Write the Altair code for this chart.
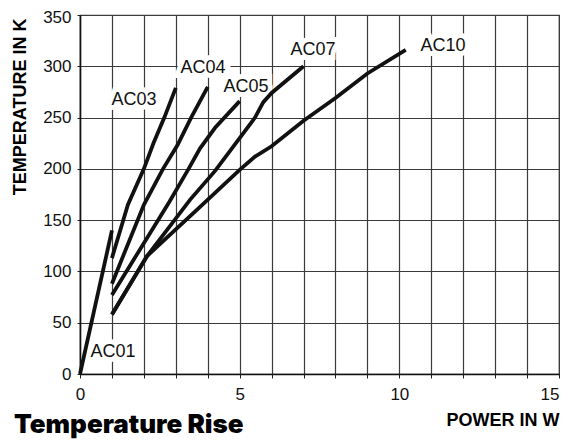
import altair as alt
import pandas as pd

# ---- data ----
ac01_x = [0, 1]
ac01_y = [0, 140]
ac03_x = [1, 1.5, 2.0, 2.3, 2.64, 3.0]
ac03_y = [113, 165, 200, 225, 250, 279]
ac04_x = [1, 2.0, 2.6, 3.05, 3.48, 4.0]
ac04_y = [88, 165, 200, 223, 250, 280]
ac05_x = [1, 2.8, 3.4, 3.76, 4.23, 5.0]
ac05_y = [77, 168, 200, 220, 240, 266]
ac07_x = [1, 2.1, 3.45, 4.23, 5.48, 5.74, 6.0, 7.0]
ac07_y = [58, 115, 170, 198, 250, 265, 274, 300]
ac10_x = [1, 2.1, 3.76, 5.0, 5.48, 6.0, 7.0, 8.0, 9.0, 10.2]
ac10_y = [58, 115, 163, 199, 212, 222, 247, 269, 293, 316]

label_names = ["AC01", "AC03", "AC04", "AC05", "AC07", "AC10"]
label_x = [1.03, 1.69, 3.85, 5.2, 7.3, 11.37]
label_y = [21, 267, 298, 280, 316, 320]

x_ticks = list(range(0, 16))
y_ticks = list(range(0, 351, 50))

series = [("AC01", ac01_x, ac01_y), ("AC03", ac03_x, ac03_y),
          ("AC04", ac04_x, ac04_y), ("AC05", ac05_x, ac05_y),
          ("AC07", ac07_x, ac07_y), ("AC10", ac10_x, ac10_y)]
rows = []
for name, xs, ys in series:
    for i, (xv, yv) in enumerate(zip(xs, ys)):
        rows.append({"series": name, "power": xv, "temp": yv, "ord": i})
df = pd.DataFrame(rows)
lab = pd.DataFrame({"label": label_names, "power": label_x, "temp": label_y})

FONT = "Liberation Sans"

x_enc = alt.X("power:Q", scale=alt.Scale(domain=[0, 15], nice=False),
              axis=alt.Axis(values=x_ticks,
                            labelExpr="datum.value % 5 == 0 ? datum.label : ''",
                            labelAlign=alt.condition("datum.value == 15",
                                                     alt.value("right"),
                                                     alt.value("center")),
                            title="POWER IN W", titleFont=FONT, titleFontSize=18,
                            titleFontWeight="bold", titleColor="black",
                            titleX=479, titleY=51, titleAlign="right",
                            titleBaseline="alphabetic",
                            labelFont=FONT, labelFontSize=17, labelColor="#111",
                            labelPadding=8, tickSize=4, tickColor="#222",
                            domainColor="#111", domainWidth=1.5,
                            grid=True, gridColor="#3a3a3a", gridWidth=1.2,
                            labelFlush=False))
y_enc = alt.Y("temp:Q", scale=alt.Scale(domain=[0, 350], nice=False),
              axis=alt.Axis(values=y_ticks,
                            title="TEMPERATURE IN K", titleFont=FONT, titleFontSize=18,
                            titleFontWeight="bold", titleColor="black",
                            titleX=-60, titleY=3, titleAngle=270,
                            titleAlign="right", titleBaseline="middle",
                            labelFont=FONT, labelFontSize=17, labelColor="#111",
                            labelOffset=alt.condition("datum.value == 350",
                                                      alt.value(2), alt.value(0)),
                            labelPadding=6, tickSize=3, tickColor="#222",
                            domainColor="#111", domainWidth=1.5,
                            grid=True, gridColor="#3a3a3a", gridWidth=1.2))

halo = alt.Chart(lab).mark_text(font=FONT, fontSize=18, color="white",
                                stroke="white", strokeWidth=10,
                                strokeJoin="miter").encode(
    x=x_enc, y=y_enc, text="label:N")

lines = alt.Chart(df).mark_line(color="#111", strokeWidth=3.8).encode(
    x=x_enc, y=y_enc, detail="series:N", order="ord:Q")

text = alt.Chart(lab).mark_text(font=FONT, fontSize=18, color="#111").encode(
    x=x_enc, y=y_enc, text="label:N")

chart = alt.layer(halo, lines, text).properties(
    width=479, height=359,
    autosize=alt.AutoSizeParams(type="none"),
    padding={"left": 72, "top": 7, "right": 1, "bottom": 68},
    title=alt.TitleParams("Temperature Rise", orient="bottom", anchor="start",
                          frame="group", font="Inter", fontWeight=900,
                          fontSize=26, color="black", dx=-66, dy=-25, offset=8),
).configure_view(stroke="#3a3a3a", strokeWidth=1.2)

chart.save("out.html", embed_options={"renderer": "svg", "actions": False})
